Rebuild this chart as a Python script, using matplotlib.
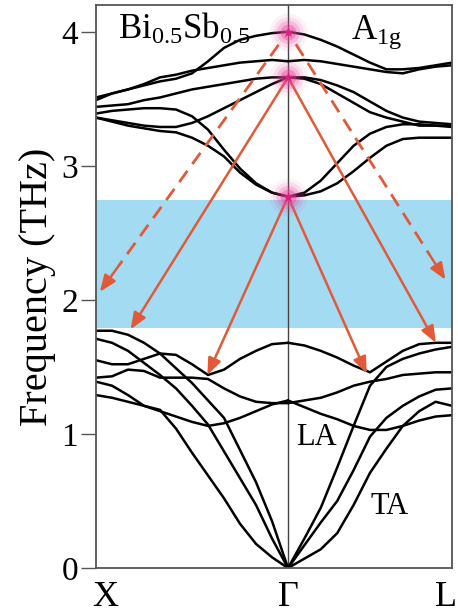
import numpy as np
import matplotlib.pyplot as plt
from matplotlib.patches import FancyArrowPatch

plt.rcParams['font.family'] = ['Liberation Serif', 'DejaVu Serif']
plt.rcParams['mathtext.fontset'] = 'custom'
plt.rcParams['mathtext.rm'] = 'Liberation Serif'
plt.rcParams['mathtext.it'] = 'Liberation Serif:italic'

# high-symmetry points along the path X -> Gamma -> L
k_X, k_G, k_L = 0.0, 1.0, 1.854
sym_labels = ['X', 'Γ', 'L']
k_left = np.linspace(k_X, k_G, 13)
k_right = np.linspace(k_G, k_L, 11)

# phonon branches X -> Gamma (THz)
left_bands = [
    [3.51, 3.54, 3.57, 3.60, 3.63, 3.65, 3.69, 3.78, 3.88, 3.94, 3.97, 3.99, 4.00],
    [3.49, 3.54, 3.57, 3.61, 3.66, 3.68, 3.71, 3.73, 3.75, 3.77, 3.78, 3.79, 3.78],
    [3.44, 3.45, 3.46, 3.49, 3.51, 3.54, 3.57, 3.59, 3.61, 3.63, 3.65, 3.66, 3.66],
    [3.36, 3.34, 3.32, 3.30, 3.29, 3.29, 3.32, 3.37, 3.43, 3.49, 3.55, 3.61, 3.66],
    [3.39, 3.41, 3.42, 3.43, 3.43, 3.42, 3.37, 3.27, 3.12, 2.98, 2.87, 2.80, 2.77],
    [3.36, 3.33, 3.30, 3.28, 3.26, 3.25, 3.21, 3.15, 3.07, 2.95, 2.86, 2.80, 2.77],
    [1.55, 1.52, 1.52, 1.56, 1.60, 1.59, 1.52, 1.44, 1.48, 1.56, 1.62, 1.67, 1.68],
    [1.42, 1.43, 1.48, 1.47, 1.42, 1.42, 1.42, 1.41, 1.34, 1.28, 1.24, 1.23, 1.23],
    [1.39, 1.36, 1.29, 1.21, 1.17, 1.13, 1.09, 1.06, 1.08, 1.12, 1.17, 1.22, 1.25],
    [1.77, 1.77, 1.74, 1.68, 1.60, 1.49, 1.38, 1.25, 1.12, 0.88, 0.64, 0.35, 0.00],
    [1.71, 1.68, 1.62, 1.53, 1.44, 1.34, 1.21, 1.07, 0.87, 0.67, 0.47, 0.22, 0.00],
    [1.29, 1.27, 1.24, 1.21, 1.18, 1.04, 0.86, 0.69, 0.52, 0.33, 0.18, 0.08, 0.00],
]

# phonon branches Gamma -> L (THz)
right_bands = [
    [4.00, 3.98, 3.94, 3.89, 3.83, 3.77, 3.72, 3.72, 3.73, 3.75, 3.77],
    [3.78, 3.79, 3.78, 3.76, 3.74, 3.72, 3.70, 3.69, 3.72, 3.74, 3.75],
    [3.66, 3.66, 3.64, 3.60, 3.55, 3.48, 3.41, 3.36, 3.33, 3.32, 3.31],
    [3.66, 3.65, 3.61, 3.54, 3.47, 3.40, 3.36, 3.33, 3.30, 3.30, 3.29],
    [2.77, 2.80, 2.89, 3.02, 3.15, 3.24, 3.29, 3.31, 3.31, 3.30, 3.30],
    [2.77, 2.78, 2.81, 2.87, 2.96, 3.06, 3.15, 3.20, 3.21, 3.21, 3.21],
    [1.68, 1.66, 1.62, 1.57, 1.51, 1.46, 1.54, 1.62, 1.67, 1.68, 1.68],
    [1.23, 1.25, 1.27, 1.31, 1.36, 1.39, 1.41, 1.44, 1.45, 1.46, 1.46],
    [1.25, 1.20, 1.15, 1.11, 1.06, 1.03, 1.03, 1.06, 1.10, 1.13, 1.14],
    [0.00, 0.22, 0.45, 0.75, 1.06, 1.36, 1.50, 1.56, 1.60, 1.63, 1.65],
    [0.00, 0.17, 0.34, 0.50, 0.73, 0.98, 1.12, 1.21, 1.28, 1.33, 1.34],
    [0.00, 0.07, 0.14, 0.26, 0.47, 0.71, 0.89, 1.06, 1.17, 1.24, 1.21],
]

gap = (1.79, 2.745)
star_freqs = [4.00, 3.66, 2.77]
solid_arrows = [((k_G, 3.66), (0.18, 1.78)), ((k_G, 3.66), (1.77, 1.68)),
                ((k_G, 2.77), (0.58, 1.44)), ((k_G, 2.77), (1.41, 1.45))]
dashed_arrows = [((k_G, 4.00), (0.02, 2.06)), ((k_G, 4.00), (1.82, 2.15))]

red = '#e05a3a'
fig = plt.figure(figsize=(4.58, 6.15), dpi=100)
ax = fig.add_axes([0.2096, 0.0764, 0.7773, 0.9155])

ax.axhspan(gap[0], gap[1], color='#a3dbf3', lw=0, zorder=0)
ax.axvline(k_G, color='#444444', lw=1.0, zorder=1)

for b in left_bands:
    ax.plot(k_left, b, color='black', lw=1.8, solid_capstyle='round', zorder=2)
for b in right_bands:
    ax.plot(k_right, b, color='black', lw=1.8, solid_capstyle='round', zorder=2)

for (x0, y0), (x1, y1) in solid_arrows:
    ax.add_patch(FancyArrowPatch((x0, y0), (x1, y1), arrowstyle='-|>,head_length=1.0,head_width=0.4',
                                 mutation_scale=10, color=red, lw=1.8, shrinkA=0, shrinkB=0, zorder=3))
for (x0, y0), (x1, y1) in dashed_arrows:
    xm, ym = x0 + 0.9 * (x1 - x0), y0 + 0.9 * (y1 - y0)
    ax.plot([x0 + 0.05 * (x1 - x0), xm], [y0 + 0.05 * (y1 - y0), ym], color=red, lw=2.0,
            dashes=(5, 3), zorder=3)
    ax.add_patch(FancyArrowPatch((xm, ym), (x1, y1), arrowstyle='-|>,head_length=1.0,head_width=0.4',
                                 mutation_scale=10, color=red, lw=1.8, shrinkA=0, shrinkB=0, zorder=3))

# pink glow at the Gamma-point modes
for f in star_freqs:
    for s, a in [(750, 0.07), (480, 0.12), (280, 0.22), (130, 0.4)]:
        ax.scatter([k_G], [f], s=s, color='#e8449c', alpha=a, lw=0, zorder=4)
    ax.scatter([k_G], [f], s=70, marker='*', color='#d8207f', lw=0, zorder=5)

ax.text(0.115, 3.95, r'Bi$_{0.5}$Sb$_{0.5}$', fontsize=25, va='baseline', ha='left')
ax.text(1.33, 3.95, r'A$_{\rm 1g}$', fontsize=25, va='baseline', ha='left')
ax.text(1.04, 0.92, 'LA', fontsize=22, va='baseline', ha='left')
ax.text(1.43, 0.40, 'TA', fontsize=22, va='baseline', ha='left')

ax.set_xlim(k_X, k_L)
ax.set_ylim(0, 4.2)
ax.set_xticks([k_X, k_G, k_L])
ax.set_xticklabels([])
ax.tick_params(axis='x', length=0)
# symmetry-point labels, nudged so X and L sit like in the original
for kx, lab, dx in zip([k_X, k_G, k_L], sym_labels, [0.047, 0.0, -0.03]):
    ax.text(kx + dx, -0.0675, lab, fontsize=26, ha='center', va='baseline',
            transform=ax.get_xaxis_transform())
ax.set_yticks([0, 1, 2, 3, 4])
ax.tick_params(axis='y', labelsize=24, length=11, width=1.0, color='#555555', pad=2)
ax.set_ylabel('Frequency (THz)', fontsize=29, labelpad=4)
for sp in ax.spines.values():
    sp.set_color('#555555')
    sp.set_linewidth(1.3)

fig.savefig('out.png', dpi=100)
